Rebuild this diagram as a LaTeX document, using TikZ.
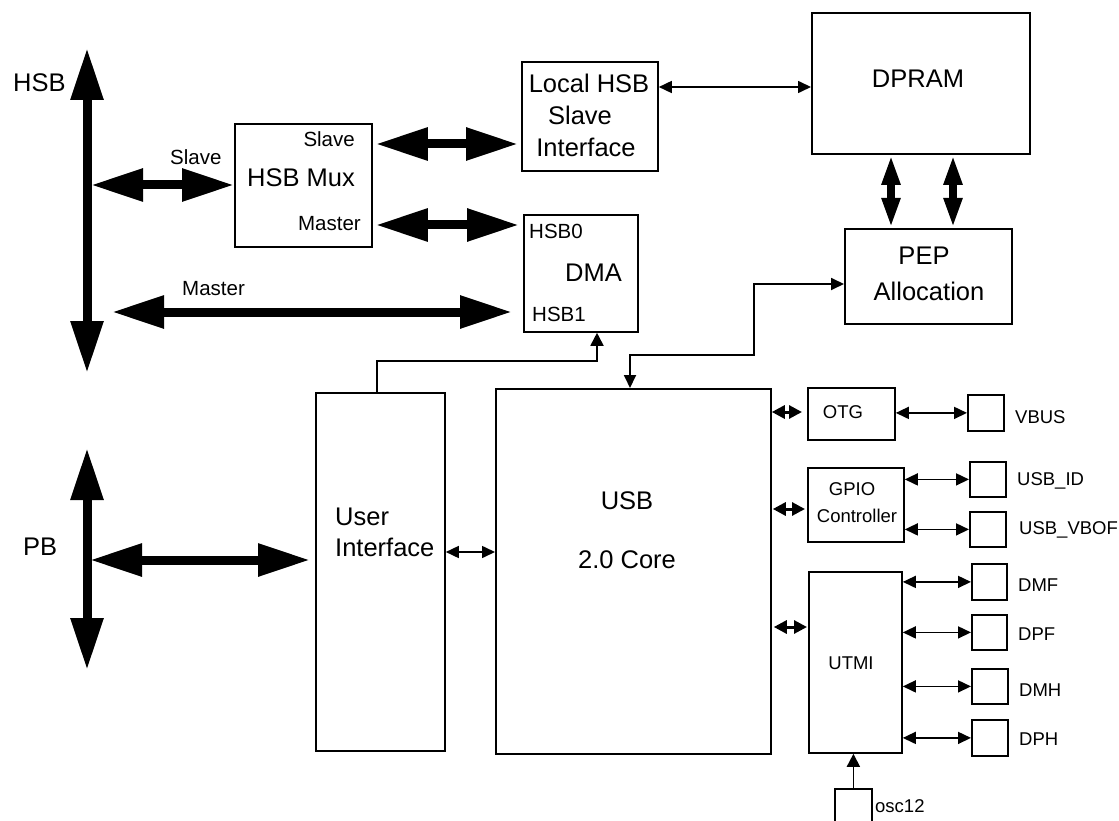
\documentclass[tikz,border=0pt]{standalone}
\usepackage{fontspec}
\setmainfont{Liberation Sans}
\usetikzlibrary{arrows.meta}
\begin{document}
\begin{tikzpicture}[x=1pt,y=-1pt,
  box/.style={draw, line width=1.8pt, inner sep=0pt, anchor=north west},
  big/.style={font=\fontsize{25.5}{30}\selectfont, inner sep=0pt},
  med/.style={font=\fontsize{20.5}{24}\selectfont, inner sep=0pt},
  small/.style={font=\fontsize{18.5}{22}\selectfont, inner sep=0pt},
  bus/.style={line width=9pt, {Triangle[length=52pt,width=31pt]}-{Triangle[length=52pt,width=31pt]}},
  midbus/.style={line width=8pt, {Triangle[length=30pt,width=17pt]}-{Triangle[length=30pt,width=17pt]}},
  stub/.style={line width=3pt, {Triangle[length=13pt,width=13pt]}-{Triangle[length=13pt,width=13pt]}},
  wire/.style={line width=1.6pt, {Triangle[length=13pt,width=12pt]}-{Triangle[length=13pt,width=12pt]}},
  wireend/.style={line width=1.8pt, -{Triangle[length=13pt,width=13pt]}},
]
\useasboundingbox (0,0) rectangle (1119,821);
\clip (0,0) rectangle (1119,821);

% boxes
\node[box, minimum width=137pt, minimum height=123pt] (mux) at (234,123) {};
\node[box, minimum width=136pt, minimum height=109pt] (local) at (521,61) {};
\node[box, minimum width=114pt, minimum height=117pt] (dma) at (523,214) {};
\node[box, minimum width=218pt, minimum height=141pt] (dpram) at (811,12) {};
\node[box, minimum width=167pt, minimum height=95pt] (pep) at (844,228) {};
\node[box, minimum width=129pt, minimum height=358pt] (ui) at (315,392) {};
\node[box, minimum width=275pt, minimum height=365pt] (usb) at (495,388) {};
\node[box, minimum width=87pt, minimum height=52pt] (otg) at (807,387) {};
\node[box, minimum width=96pt, minimum height=74pt] (gpio) at (807,467) {};
\node[box, minimum width=93pt, minimum height=181pt] (utmi) at (808,571) {};
\node[box, minimum width=36pt, minimum height=36pt] (vbus) at (967,394) {};
\node[box, minimum width=36pt, minimum height=35pt] (usbid) at (969,461) {};
\node[box, minimum width=36pt, minimum height=35pt] (vbof) at (969,511) {};
\node[box, minimum width=35pt, minimum height=36pt] (dmf) at (971,563) {};
\node[box, minimum width=35pt, minimum height=35pt] (dpf) at (971,614) {};
\node[box, minimum width=36pt, minimum height=35pt] (dmh) at (971,668) {};
\node[box, minimum width=36pt, minimum height=36pt] (dph) at (971,719) {};
\node[box, minimum width=37pt, minimum height=45pt] (osc) at (834,788) {};

% texts
\node[big, anchor=base west] (tHSB) at (13,92) {HSB};
\node[big, anchor=base west] (tPB) at (23,555) {PB};
\node[med, anchor=base west] (tSlaveA) at (170,165) {Slave};
\node[med, anchor=base west] (tMasterA) at (182,295) {Master};
\node[med, anchor=base east] (tMuxS) at (355,147) {Slave};
\node[big, anchor=base west] (tMux) at (247,187) {HSB Mux};
\node[med, anchor=base east] (tMuxM) at (361,231) {Master};
\node[big, anchor=base] (tLoc1) at (589,93) {Local HSB};
\node[big, anchor=base] (tLoc2) at (580,125) {Slave};
\node[big, anchor=base] (tLoc3) at (586,157) {Interface};
\node[med, anchor=base west] (tH0) at (529,238) {HSB0};
\node[big, anchor=base west] (tDMA) at (565,281) {DMA};
\node[med, anchor=base west] (tH1) at (532,321) {HSB1};
\node[big, anchor=base] (tDPRAM) at (918,88) {DPRAM};
\node[big, anchor=base] (tPEP1) at (924,265) {PEP};
\node[big, anchor=base] (tPEP2) at (929,300) {Allocation};
\node[big, anchor=base west] (tUI1) at (335,525) {User};
\node[big, anchor=base west] (tUI2) at (335,556) {Interface};
\node[big, anchor=base] (tUSB1) at (627,509) {USB};
\node[big, anchor=base] (tUSB2) at (627,568) {2.0 Core};
\node[small, anchor=base] (tOTG) at (843,418) {OTG};
\node[small, anchor=base] (tGPIO1) at (852,495) {GPIO};
\node[small, anchor=base] (tGPIO2) at (857,522) {Controller};
\node[small, anchor=base] (tUTMI) at (851,669) {UTMI};
\node[small, anchor=base west] (tVBUS) at (1015,423) {VBUS};
\node[small, anchor=base west] (tID) at (1017,485) {USB\_ID};
\node[small, anchor=base west] (tVBOF) at (1019,534) {USB\_VBOF};
\node[small, anchor=base west] (tDMF) at (1018,591) {DMF};
\node[small, anchor=base west] (tDPF) at (1018,640) {DPF};
\node[small, anchor=base west] (tDMH) at (1019,696) {DMH};
\node[small, anchor=base west] (tDPH) at (1019,745) {DPH};
\node[small, anchor=base west] (tOSC) at (875,812) {osc12};

% bus arrows
\coordinate (hsbtop) at (87,48);
\coordinate (hsbbot) at (87,373);
\coordinate (slaveL) at (91,185);
\coordinate (mstL) at (112,312);
\coordinate (pbtop) at (87,448);
\coordinate (pbbot) at (87,670);
\coordinate (pbL) at (90,560);
\draw[bus] (hsbtop) -- (hsbbot);
\draw[bus] (slaveL) -- (mux.west |- slaveL);
\draw[bus, shorten <=3pt, shorten >=3pt] (mux.east |- 0,144) -- (local.west |- 0,144);
\draw[bus, shorten <=3pt, shorten >=4pt] (mux.east |- 0,225) -- (dma.west |- 0,225);
\draw[bus, shorten >=11pt] (mstL) -- (dma.west |- mstL);
\draw[bus] (pbtop) -- (pbbot);
\draw[bus, shorten >=5pt] (pbL) -- (ui.west |- pbL);
\draw[midbus] (dpram.south -| 891,0) -- (pep.north -| 891,0);
\draw[midbus] (dpram.south -| 953,0) -- (pep.north -| 953,0);

% stubs
\draw[stub, shorten >=5pt] (usb.east |- 0,412) -- (otg.west |- 0,412);
\draw[stub, shorten <=1pt, shorten >=2pt] (usb.east |- 0,509) -- (gpio.west |- 0,509);
\draw[stub, shorten <=2pt, shorten >=1pt] (usb.east |- 0,627) -- (utmi.west |- 0,627);

% wires
\draw[wire] (otg.east |- vbus.west) -- (vbus.west);
\draw[wire] (gpio.east |- usbid.west) -- (usbid.west);
\draw[wire] (gpio.east |- vbof.west) -- (vbof.west);
\draw[wire] (utmi.east |- dmf.west) -- (dmf.west);
\draw[wire] (utmi.east |- dpf.west) -- (dpf.west);
\draw[wire] (utmi.east |- dmh.west) -- (dmh.west);
\draw[wire] (utmi.east |- dph.west) -- (dph.west);
\draw[wire] (local.east |- 0,87) -- (dpram.west |- 0,87);
\draw[wire] (ui.east |- 0,552) -- (usb.west |- 0,552);
\draw[wireend] (osc.north) -- (osc.north |- utmi.south);
\draw[wire, line width=1.8pt] (usb.north -| 630,0) |- (754,355) |- (pep.west |- 0,284);
\draw[wireend] (ui.north -| 377,0) |- (597,361) -- (dma.south -| 597,0);
\end{tikzpicture}
\end{document}
